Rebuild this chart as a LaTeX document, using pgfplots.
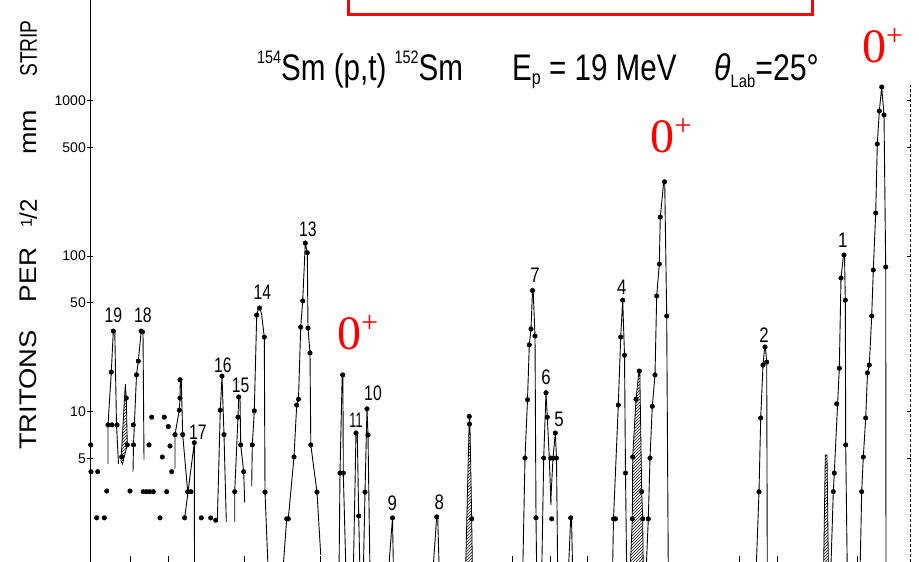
\documentclass[border=0pt]{standalone}
\usepackage{fontspec}
\setmainfont{Liberation Sans}
\newfontfamily\serifred{Liberation Serif}
\usepackage{graphicx}
\usepackage{pgfplots}
\pgfplotsset{compat=1.18}
\usetikzlibrary{patterns}

\pgfplotsset{
  trace/.style={black, line width=0.9pt, mark=none},
  hatch/.style={draw=black, line width=0.8pt, pattern=north east lines, pattern color=black, mark=none},
}

\begin{document}
\begin{tikzpicture}
\begin{axis}[
  scale only axis, width=821pt, height=562pt,
  xmin=90, xmax=911, ymode=log, ymin=1.077, ymax=4429,
  axis x line*=bottom, axis y line*=left,
  x axis line style={draw=none},
  y axis line style={line width=0.9pt},
  xtick={130,168,244,320,512,550,587,739,777,857}, xticklabels={},
  xtick align=inside,
  ytick={5,10,50,100,500,1000}, yticklabels={5,10,50,100,500,1000},
  ytick align=center,
  major tick length=6pt,
  minor tick style={draw=none},
  tick style={black, line width=0.8pt},
  yticklabel style={font=\fontsize{14}{14}\selectfont, inner sep=1pt},
  clip=true,
]
\coordinate (TL) at (rel axis cs:0,1);

% hatched areas
\addplot[hatch] coordinates {(121,4.8) (125.3,15) (126.3,12.2) (127.3,6.1) (122.5,4.6)} -- cycle;
\addplot[hatch] coordinates {(465.5,0.9) (469.3,9.3) (469.8,9.3) (471.7,2.04) (472.5,0.9)} -- cycle;
\addplot[hatch] coordinates {(630,0.9) (632.3,2.04) (632.7,5.1) (636,12) (639,18.2) (639.8,18.2) (641.7,3.05) (642.7,2.04) (643.3,0.9)} -- cycle;
\addplot[hatch] coordinates {(823.5,0.9) (825.3,5.25) (827,5.25) (828.5,0.9)} -- cycle;

% connected traces
\addplot[trace] coordinates {(108,4.6) (108,8.2) (111.3,17.9) (113.3,32.9) (114.8,32.5) (116.5,8.2) (118.5,4.6)};
\addplot[trace] coordinates {(133,4.1) (133.5,6.1) (136.5,17.2) (138.3,21.1) (141.2,32.9) (143,32.5) (144,4.9)};
\addplot[trace] coordinates {(175,4.3) (175,7.1) (179.3,10.2) (180,12.2) (180.3,16) (181.3,15.5) (182.7,7.1) (187.7,3.05) (191,3.05)};
\addplot[trace] coordinates {(184.7,2.07) (194.3,6.3) (194.5,0.9)};
\addplot[trace] coordinates {(217.3,1.95) (220.3,10.2) (222,16.9) (224,7.1) (226.3,1.95)};
\addplot[trace] coordinates {(234.7,1.95) (234.7,3.05) (238,9.2) (238.7,12.4) (240,12.2) (240.7,6.1) (243.7,4.1) (244.7,2.6)};
\addplot[trace] coordinates {(251.7,3.3) (252.3,6.1) (254.3,10.1) (256.7,41.7) (258.5,46.3) (260,46.3) (261.7,41.7) (264.3,30.1) (265,3.03) (268.3,0.9)};
\addplot[trace] coordinates {(282.7,0.9) (286.7,2.04) (288.3,2.04) (294,5.1) (296.7,11) (298.5,12) (300.7,34.9) (302.7,51.4) (305.3,121) (307.3,105) (308,34.4) (310,23.8) (310.8,6.1) (317,3.03) (320.7,1.2)};
\addplot[trace] coordinates {(339,0.9) (340,4.02) (342.2,17.2) (342.9,17.2) (343.3,4.02) (346,0.9)};
\addplot[trace] coordinates {(353.3,0.9) (356,7.27) (357.3,7.1) (358.7,2.13) (360,0.9)};
\addplot[trace] coordinates {(363.3,0.9) (365,3.03) (367,10.4) (368,7.06) (370,0.9)};
\addplot[trace] coordinates {(388.3,0.9) (392.5,2.07) (393.5,0.9)};
\addplot[trace] coordinates {(432.7,0.9) (436.7,2.1) (437.7,2.1) (439.3,0.9)};
\addplot[trace] coordinates {(522.7,0.9) (525,5.02) (527.5,11.9) (529.3,26.8) (531,33.9) (532.5,60) (533.3,57) (535,30.6) (536,2.07) (536.7,0.9)};
\addplot[trace] coordinates {(541.7,0.9) (543.7,5.02) (546,13.2) (547.3,9.2) (549.3,5.02) (551,2.5)};
\addplot[trace] coordinates {(550.7,2.6) (553,5.02) (555.3,7.27) (556.5,5.02) (557.7,0.9)};
\addplot[trace] coordinates {(568.3,0.9) (570.7,2.07) (571.5,2.07) (572.7,0.9)};
\addplot[trace] coordinates {(612.5,0.9) (613.5,2.04) (618.3,11) (620.7,30.1) (622.7,52) (624.5,23) (625.5,4.02) (626.7,0.9)};
\addplot[trace] coordinates {(646,0.9) (648.3,2.04) (650,5.02) (652.3,10.8) (655,17.2) (656.7,55.3) (659.3,88.8) (660.3,178) (663.7,300) (664.7,300) (666.7,41.1) (668.3,0.9)};
\addplot[trace] coordinates {(756,0.9) (759,3.05) (760.7,9.08) (763,19.9) (764.7,26) (765.3,26) (766.7,20.8) (767.3,0.9)};
\addplot[trace] coordinates {(830.7,0.9) (833.3,3.05) (834.3,4.02) (839.3,19) (841,72.2) (843.5,101.5) (844.5,101) (845.3,52) (845.7,6.1) (847.3,0.9)};
\addplot[trace] coordinates {(860,0.9) (861.7,3.05) (863.3,5.1) (865.7,9.08) (867.5,17.7) (869.3,19.9) (871.7,41.1) (873.3,81.3) (875.7,189) (877.3,525) (879.3,856) (881.7,1221) (884,807) (885.7,85) (886,0.9)};

% measured points
\addplot[only marks, mark=*, mark size=2.3pt, black] coordinates {
(90.7,6.1) (91,4.1) (97.7,4.1) (96.7,2.07) (104.3,2.07) (106.7,3.08)
(108,8.2) (112,8.2) (117,8.2) (111.3,17.9) (113.3,32.9)
(121.7,5.1) (127.3,6.1) (126.3,12.2)
(130,3.08) (133.3,8.2) (133.5,6.1)
(136.5,17.2) (138.3,21.1) (141.2,32.9) (142.5,32.5)
(143.3,3.05) (146.5,3.05) (149.7,3.05) (153.3,3.05) (149,6.1) (151.7,9.2) (160,2.07) (162.3,5.1) (164.3,9.2) (166.7,3.05) (168.3,8) (170,6) (171.7,4.1)
(175,7.1) (179.3,10.2) (180,12.2) (180,16) (182.7,7.1)
(184.7,2.07) (187.7,3.05) (191,3.05) (194.3,6.3)
(201.3,2.07) (210.7,2.07) (215.7,2)
(220.3,10.2) (222,16.9) (224,7.1)
(234.7,3.05) (238,9.2) (238.7,12.4) (240.7,6.1) (243.7,4.1)
(252.3,6.1) (254.3,10.1) (256.7,41.7) (259.5,46.3) (264.3,30.1) (265,3.03)
(286.7,2.04) (288.3,2.04) (294,5.1) (296.7,11) (298.5,12) (300.7,34.9) (302.7,51.4) (305.3,121) (307.3,105) (308,34.4) (310,23.8) (310.8,6.1) (317,3.03)
(340,4.02) (343.3,4.02) (342.7,17.2)
(356,7.27) (358.7,2.13)
(365,3.03) (367,10.4) (368,7.06)
(392.5,2.07)
(436.7,2.1)
(469.3,9.3) (469.5,8.3) (471.7,2.04)
(525,5.02) (527.5,11.9) (529.3,26.8) (531,33.9) (532.5,60) (535,30.6) (536,2.07)
(543.7,5.02) (546,13.2) (547.3,9.2) (551.7,2.04)
(550.7,5.02) (553.5,5.02) (556.5,5.02) (555.3,7.27)
(570.7,2.07)
(613.5,2.04) (615.5,2.04) (618.3,11) (620.7,30.1) (622.7,52) (624.5,23) (625.5,4.02)
(632.3,2.04) (632.7,5.1) (636,12) (639.3,18.2) (641.7,3.05) (642.7,2.04)
(648.3,2.04) (650,5.02) (652.3,10.8) (655,17.2) (656.7,55.3) (659.3,88.8) (660.3,178) (664.5,300) (666.7,41.1)
(759,3.05) (760.7,9.08) (763,19.9) (765,26) (766.7,20.8)
(833.3,3.05) (834.3,4.02) (836.7,11.2) (839.3,19) (841,72.2) (844,101.5) (845.3,52) (845.7,6.1)
(861.7,3.05) (863.3,5.1) (865.7,9.08) (867.5,17.7) (869.3,19.9) (871.7,41.1) (873.3,81.3) (875.7,189) (877.3,525) (879.3,856) (881.7,1221) (884,807) (885.7,85)
};

\draw[densely dashed, line width=0.6pt] (axis cs:910.5,1.0) -- (axis cs:910.5,1250);
\end{axis}

% right-hand axis ticks
\begin{axis}[
  scale only axis, width=821pt, height=562pt,
  xmin=90, xmax=911, ymode=log, ymin=1.077, ymax=4429,
  axis x line=none, axis y line*=right,
  y axis line style={draw=none},
  ytick={5,10,100,500,1000}, yticklabels={},
  ytick align=inside, major tick length=4pt,
  minor tick style={draw=none},
  tick style={black, line width=0.8pt},
]
\addplot[draw=none] coordinates {(100,10)};
\end{axis}

\begin{scope}[shift={(TL)}, xshift=-90pt, x=1pt, y=-1pt]
  % red box (cut at top)
  \draw[red, line width=3.4pt] (348.4,-40) rectangle (812.3,14.3);
  % title
  \node[anchor=base west, inner sep=0] at (257,81) {\scalebox{0.8}[1]{\fontsize{37}{37}\selectfont\raisebox{17pt}{\fontsize{18}{18}\selectfont 154}Sm (p,t) \raisebox{17pt}{\fontsize{18}{18}\selectfont 152}Sm}};
  \node[anchor=base west, inner sep=0] at (512,81) {\scalebox{0.8}[1]{\fontsize{37}{37}\selectfont E\raisebox{-4pt}{\fontsize{20}{20}\selectfont p} = 19 MeV}};
  \node[anchor=base west, inner sep=0] at (714,81) {\scalebox{0.82}[1]{\fontsize{37}{37}\selectfont\textit{θ}\raisebox{-7pt}{\fontsize{18}{18}\selectfont Lab}=25°}};
  % y label
  \node[rotate=90, anchor=base, inner sep=0] at (37,390) {\fontsize{24}{24}\selectfont\scalebox{1.14}[1]{TRITONS}};
  \node[rotate=90, anchor=base, inner sep=0] at (37,275) {\fontsize{24}{24}\selectfont\scalebox{1.1}[1]{PER}};
  \node[rotate=90, anchor=base, inner sep=0] at (37,213.5) {\fontsize{24}{24}\selectfont\raisebox{5pt}{\fontsize{16}{16}\selectfont 1}/2};
  \node[rotate=90, anchor=base, inner sep=0] at (37,132.5) {\fontsize{24}{24}\selectfont\scalebox{1.12}[1]{mm}};
  \node[rotate=90, anchor=base, inner sep=0] at (37,48.5) {\fontsize{24}{24}\selectfont\scalebox{0.8}[1]{STRIP}};
  % peak numbers
  \begin{scope}[every node/.style={inner sep=0, anchor=center, font=\fontsize{21}{21}\selectfont}]
    \node at (113.5,315) {\scalebox{0.75}[1]{19}};
    \node at (143,315) {\scalebox{0.75}[1]{18}};
    \node at (198,432) {\scalebox{0.75}[1]{17}};
    \node at (223,365) {\scalebox{0.75}[1]{16}};
    \node at (240.7,385) {\scalebox{0.75}[1]{15}};
    \node at (262.5,292) {\scalebox{0.75}[1]{14}};
    \node at (308,229) {\scalebox{0.75}[1]{13}};
    \node at (356,420) {\scalebox{0.6}[1]{11}};
    \node at (373,393) {\scalebox{0.75}[1]{10}};
    \node at (392.3,503) {\scalebox{0.8}[1]{9}};
    \node at (439.3,502) {\scalebox{0.8}[1]{8}};
    \node at (535,275) {\scalebox{0.8}[1]{7}};
    \node at (546,377) {\scalebox{0.8}[1]{6}};
    \node at (559,419) {\scalebox{0.8}[1]{5}};
    \node at (621.7,287) {\scalebox{0.8}[1]{4}};
    \node at (764,335) {\scalebox{0.8}[1]{2}};
    \node at (842.7,240) {\scalebox{0.8}[1]{1}};
  \end{scope}
  % red 0+ labels
  \begin{scope}[every node/.style={inner sep=0, anchor=base west, text=red, font=\serifred\fontsize{48}{48}\selectfont}]
    \node at (337,350) {0\raisebox{17pt}{\fontsize{30}{30}\selectfont +}};
    \node at (650.5,153) {0\raisebox{17pt}{\fontsize{30}{30}\selectfont +}};
    \node at (862,63) {0\raisebox{17pt}{\fontsize{30}{30}\selectfont +}};
  \end{scope}
  \pgfresetboundingbox
  \path[use as bounding box] (0,0) rectangle (919,562);
\end{scope}
\end{tikzpicture}
\end{document}
